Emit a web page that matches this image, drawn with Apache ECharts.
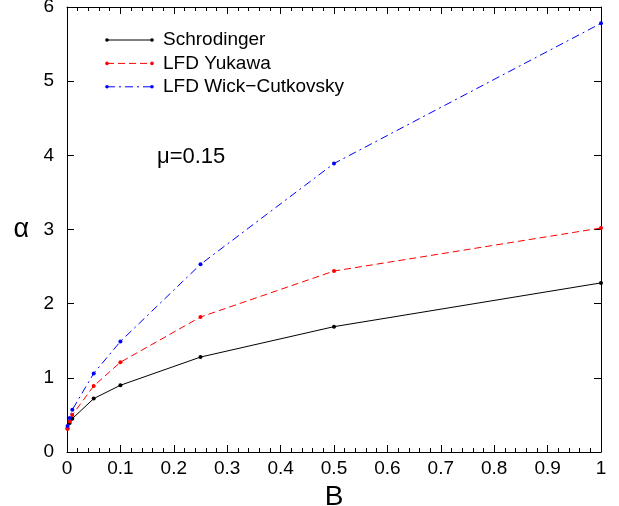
<!DOCTYPE html>
<html>
<head>
<meta charset="utf-8">
<script src="https://cdn.jsdelivr.net/npm/echarts@6/dist/echarts.min.js"></script>
<style>
  html, body { margin: 0; padding: 0; background: #fff; }
  #chart { width: 619px; height: 506px; }
</style>
</head>
<body>
<div id="chart"></div>
<script>
// Binding energy B and coupling constant alpha, mu = 0.15
const bValues = [0.001, 0.005, 0.01, 0.05, 0.1, 0.25, 0.5, 1];
const schrodinger = [0.32, 0.39, 0.45, 0.72, 0.90, 1.28, 1.69, 2.28];
const lfdYukawa = [0.31, 0.41, 0.50, 0.89, 1.21, 1.82, 2.44, 3.02];
const lfdWickCutkovsky = [0.35, 0.46, 0.57, 1.06, 1.49, 2.53, 3.89, 5.78];
const seriesNames = ['Schrodinger', 'LFD Yukawa', 'LFD Wick\u2212Cutkovsky'];
const xTicks = [0, 0.1, 0.2, 0.3, 0.4, 0.5, 0.6, 0.7, 0.8, 0.9, 1];
const yTicks = [0, 1, 2, 3, 4, 5, 6];

const FONT = 'Liberation Sans, Arial, sans-serif';
const colors = ['#000000', '#ff0000', '#0000ff'];
const dashes = ['solid', [7, 4], [8, 4, 2, 4]];
const seriesData = [schrodinger, lfdYukawa, lfdWickCutkovsky];

const chart = echarts.init(document.getElementById('chart'), null, { renderer: 'canvas' });

const axisLine = { show: true, onZero: false, lineStyle: { color: '#000', width: 1 } };
const majorTick = { show: true, inside: true, length: 7, lineStyle: { color: '#000' } };
const minorTick = { show: true, splitNumber: 5, length: 4, lineStyle: { color: '#000' } };

const series = seriesData.map((vals, i) => ({
  name: seriesNames[i],
  type: 'line',
  data: bValues.map((b, k) => [b, vals[k]]),
  symbol: 'circle',
  symbolSize: 4,
  showSymbol: true,
  itemStyle: { color: colors[i] },
  lineStyle: { color: colors[i], width: 1, type: dashes[i] },
  animation: false,
  z: 3
}));

// Legend drawn as sample lines with end dots
const legendGraphics = [];
seriesNames.forEach((name, i) => {
  const y = 40 + i * 23.4;
  legendGraphics.push({
    type: 'line', shape: { x1: 107, y1: y, x2: 152, y2: y },
    style: { stroke: colors[i], lineWidth: 1, lineDash: dashes[i] === 'solid' ? null : dashes[i] }
  });
  legendGraphics.push({ type: 'circle', shape: { cx: 107, cy: y, r: 1.8 }, style: { fill: colors[i] } });
  legendGraphics.push({ type: 'circle', shape: { cx: 152, cy: y, r: 1.8 }, style: { fill: colors[i] } });
  legendGraphics.push({
    type: 'text', x: 163, y: y, style: {
      text: name, fill: '#000', font: '19px ' + FONT, textVerticalAlign: 'middle'
    }
  });
});

chart.setOption({
  backgroundColor: '#fff',
  animation: false,
  grid: { left: 67, right: 18, top: 7, bottom: 54, outerBoundsMode: 'none', containLabel: false },
  xAxis: [
    {
      type: 'value', min: 0, max: 1, interval: 0.1,
      axisLine: axisLine,
      axisTick: majorTick,
      minorTick: minorTick,
      splitLine: { show: false },
      minorSplitLine: { show: false },
      axisLabel: {
        color: '#000', fontFamily: FONT, fontSize: 19, margin: 7,
        formatter: v => {
          const r = Math.round(v * 10) / 10;
          return xTicks.indexOf(r) >= 0 ? String(r) : '';
        }
      },
      name: 'B', nameLocation: 'middle', nameGap: 29,
      nameTextStyle: { color: '#000', fontFamily: FONT, fontSize: 28 }
    },
    {
      type: 'value', position: 'top', min: 0, max: 1, interval: 0.1,
      axisLine: axisLine,
      axisTick: majorTick,
      minorTick: minorTick,
      splitLine: { show: false },
      minorSplitLine: { show: false },
      axisLabel: { show: false }
    }
  ],
  yAxis: [
    {
      type: 'value', min: 0, max: 6, interval: 1,
      axisLine: axisLine,
      axisTick: majorTick,
      splitLine: { show: false },
      axisLabel: {
        color: '#000', fontFamily: FONT, fontSize: 19, margin: 13,
        formatter: v => yTicks.indexOf(v) >= 0 ? String(v) : ''
      },
      name: '\u03b1', nameLocation: 'middle', nameGap: 38, nameRotate: 0,
      nameTextStyle: { color: '#000', fontFamily: FONT, fontSize: 27 }
    },
    {
      type: 'value', position: 'right', min: 0, max: 6, interval: 1,
      axisLine: axisLine,
      axisTick: majorTick,
      splitLine: { show: false },
      axisLabel: { show: false }
    }
  ],
  series: series,
  graphic: legendGraphics.concat([
    {
      type: 'text', x: 157, y: 157, style: {
        text: '\u03bc=0.15', fill: '#000', font: '22px ' + FONT, textVerticalAlign: 'middle'
      }
    }
  ])
});
</script>
</body>
</html>
